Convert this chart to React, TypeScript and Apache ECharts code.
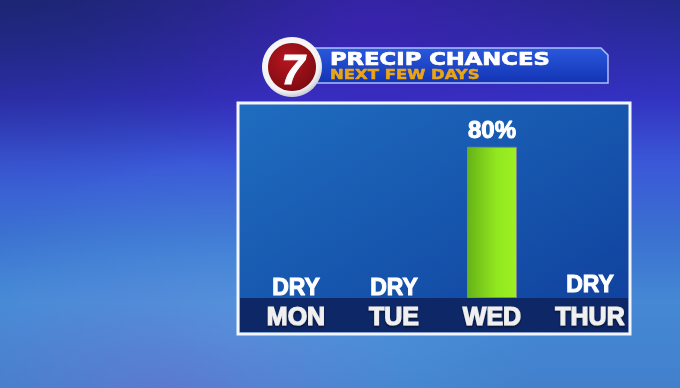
import React, { useEffect, useRef } from "react";
import * as echarts from "echarts";

const days = ["MON", "TUE", "WED", "THUR"];
const precipChance = [0, 0, 80, 0];
const labelLift = [0, 0, 5, 3];
const titleMain = "PRECIP CHANCES";
const titleSub = "NEXT FEW DAYS";

export default function App() {
  const ref = useRef<HTMLDivElement>(null);
  useEffect(() => {
    if (!ref.current) return;
    const chart = echarts.init(ref.current, null, { renderer: "svg" });
    const lg = (x: number, y: number, x2: number, y2: number, stops: [number, string][]) =>
      new echarts.graphic.LinearGradient(x, y, x2, y2, stops.map(([offset, color]) => ({ offset, color })));
    const rg = (x: number, y: number, r: number, stops: [number, string][]) =>
      new echarts.graphic.RadialGradient(x, y, r, stops.map(([offset, color]) => ({ offset, color })));

    const option: any = {
      animation: false,
      graphic: [
        { type: "rect", z: -10, shape: { x: 0, y: 0, width: 680, height: 388 },
          style: { fill: lg(0, 0, 0, 1, [[0, "#23288a"], [0.25, "#3232c0"], [0.42, "#3a58d8"], [0.6, "#3a70d0"], [0.78, "#4588d4"], [1, "#4280cc"]]) } },
        { type: "rect", z: -9, shape: { x: 0, y: 0, width: 680, height: 388 },
          style: { fill: rg(0.55, 0.05, 0.45, [[0, "rgba(70,30,190,0.55)"], [1, "rgba(70,30,190,0)"]]) } },
        { type: "rect", z: -9, shape: { x: 0, y: 0, width: 680, height: 388 },
          style: { fill: rg(0.0, 0.0, 0.5, [[0, "rgba(25,35,100,0.6)"], [1, "rgba(25,35,100,0)"]]) } },
        { type: "rect", z: -9, shape: { x: 0, y: 0, width: 680, height: 388 },
          style: { fill: rg(0.35, 0.85, 0.45, [[0, "rgba(110,190,245,0.3)"], [1, "rgba(110,190,245,0)"]]) } },
        { type: "rect", z: -9, shape: { x: 0, y: 0, width: 680, height: 388 },
          style: { fill: rg(0.25, 1.0, 0.35, [[0, "rgba(120,90,200,0.35)"], [1, "rgba(120,90,200,0)"]]) } },
        // panel
        { type: "rect", z: -5, shape: { x: 238, y: 103, width: 392, height: 231 },
          style: { fill: lg(0, 0, 1, 1, [[0, "#1f6dc0"], [1, "#0f3f9c"]]), stroke: "#f4f6fb", lineWidth: 3 } },
        { type: "rect", z: -4, shape: { x: 240, y: 298, width: 388, height: 34 },
          style: { fill: "#0e2767" } },
        // banner
        { type: "polygon", z: 5, shape: { points: [[312, 48], [601, 48], [608, 55], [608, 83], [312, 83]] },
          style: { fill: lg(0, 0, 0, 1, [[0, "#2a58dc"], [1, "#1234b4"]]), stroke: "rgba(190,205,255,0.9)", lineWidth: 1.5 } },
        { type: "text", z: 6, x: 330, y: 59, scaleX: 1.26,
          style: { text: titleMain, fill: "#ffffff", stroke: "#ffffff", lineWidth: 0.7, font: "bold 18px 'DejaVu Sans'", textAlign: "left", textVerticalAlign: "middle" } },
        { type: "text", z: 6, x: 330, y: 75, scaleX: 1.22,
          style: { text: titleSub, fill: "#e9a515", stroke: "#e9a515", lineWidth: 0.5, font: "bold 13.5px 'DejaVu Sans'", textAlign: "left", textVerticalAlign: "middle" } },
        // logo
        { type: "circle", z: 7, shape: { cx: 292, cy: 67, r: 30 },
          style: { fill: rg(0.45, 0.4, 0.6, [[0, "#ffffff"], [0.85, "#f2f2f4"], [1, "#c9ccd6"]]) } },
        { type: "circle", z: 8, shape: { cx: 292, cy: 67, r: 24 },
          style: { fill: rg(0.4, 0.35, 0.7, [[0, "#b5161f"], [1, "#7e0a12"]]) } },
        { type: "text", z: 9, x: 293, y: 69,
          style: { text: "7", fill: "#ffffff", stroke: "#ffffff", lineWidth: 1, font: "italic bold 42px 'Liberation Sans'", textAlign: "center", textVerticalAlign: "middle" } },
      ],
      grid: { left: 247, width: 392, top: 109, bottom: 90 },
      xAxis: {
        type: "category",
        data: days,
        axisLine: { show: false },
        axisTick: { show: false },
        axisLabel: {
          margin: 5,
          color: "#f0f0f0",
          fontFamily: "Liberation Sans",
          fontWeight: "bold",
          fontSize: 25,
          textBorderColor: "#e8e8e8",
          textBorderWidth: 1.2,
          textShadowColor: "rgba(0,0,0,0.6)",
          textShadowBlur: 2,
          textShadowOffsetY: 1.5,
        },
      },
      yAxis: { type: "value", min: 0, max: 100, show: false },
      series: [
        {
          type: "bar",
          z: 10,
          barWidth: 50,
          data: precipChance.map((v, i) => ({
            value: v,
            label: v === 0 ? { distance: labelLift[i] } : { distance: labelLift[i], fontSize: 24 },
            itemStyle: v === 0 ? { borderWidth: 0, color: "rgba(0,0,0,0)" } : {},
          })),
          itemStyle: {
            color: lg(0, 0, 1, 0, [[0, "#66b218"], [0.6, "#92e81f"], [1, "#9cf022"]]),
            borderColor: "#7d8a94",
            borderWidth: 1,
          },
          label: {
            show: true,
            position: "top",
            color: "#ffffff",
            fontFamily: "Liberation Sans",
            fontWeight: "bold",
            fontSize: 23,
            textBorderColor: "#ffffff",
            textBorderWidth: 1,
            formatter: (p: any) => (p.value === 0 ? "DRY" : p.value + "%"),
          },
        },
      ],
    };
    chart.setOption(option);
    return () => chart.dispose();
  }, []);
  return <div ref={ref} style={{ position: "fixed", left: 0, top: 0, width: 680, height: 388 }} />;
}
